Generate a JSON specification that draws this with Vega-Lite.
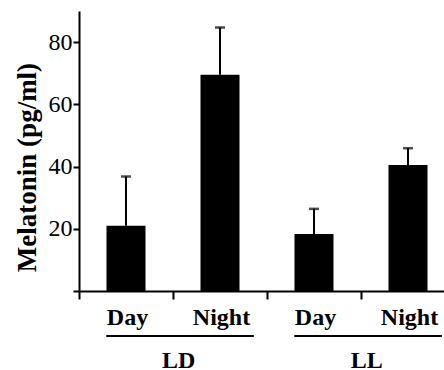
{
  "$schema": "https://vega.github.io/schema/vega-lite/v6.json",
  "autosize": "none",
  "padding": {"left": 79, "top": 11, "right": 0, "bottom": 79},
  "width": 376,
  "height": 280,
  "background": "white",
  "config": {
    "view": {"stroke": null},
    "font": "Liberation Serif",
    "axis": {"ticks": true, "tickColor": "black", "tickWidth": 2, "domainColor": "black", "domainWidth": 2}
  },
  "layer": [
    {
      "data": {"values": [
        {"cond": "LD-Day", "mean": 21, "upper": 36.8},
        {"cond": "LD-Night", "mean": 69.5, "upper": 84.7},
        {"cond": "LL-Day", "mean": 18.3, "upper": 26.4},
        {"cond": "LL-Night", "mean": 40.5, "upper": 45.9}
      ]},
      "layer": [
        {
          "mark": {"type": "rule", "color": "black", "strokeWidth": 2},
          "encoding": {
            "x": {"field": "cond", "type": "nominal"},
            "y": {"field": "mean", "type": "quantitative"},
            "y2": {"field": "upper"}
          }
        },
        {
          "mark": {"type": "tick", "color": "black", "size": 10, "thickness": 2.5, "orient": "horizontal"},
          "encoding": {
            "x": {"field": "cond", "type": "nominal"},
            "y": {"field": "upper", "type": "quantitative"}
          }
        },
        {
          "mark": {"type": "bar", "color": "black", "width": {"band": 0.415}},
          "encoding": {
            "x": {
              "field": "cond", "type": "nominal", "sort": null,
              "scale": {"type": "band", "paddingInner": 0, "paddingOuter": 0},
              "axis": {
                "title": null,
                "tickOffset": -47,
                "labelOffset": 48,
                "labelAngle": 0,
                "labelAlign": "center",
                "labelExpr": "split(datum.label, '-')[1]",
                "labelFont": "Liberation Serif",
                "labelFontWeight": "bold",
                "labelFontSize": 24,
                "labelColor": "black",
                "labelPadding": 18,
                "ticks": true,
                "tickSize": 8,
                "grid": false
              }
            },
            "y": {
              "field": "mean", "type": "quantitative",
              "scale": {"domain": [0, 90], "nice": false, "zero": true},
              "axis": {
                "title": "Melatonin (pg/ml)",
                "titleFont": "Liberation Serif",
                "titleFontWeight": "bold",
                "titleFontSize": 27,
                "titleColor": "black",
                "titlePadding": 7,
                "titleY": 156,
                "values": [0, 10, 20, 30, 40, 50, 60, 70, 80],
                "labelExpr": "datum.value % 20 == 0 && datum.value > 0 ? datum.label : ''",
                "labelFont": "Liberation Serif",
                "labelFontSize": 24,
                "labelColor": "black",
                "labelPadding": 1,
                "ticks": true,
                "tickSize": 6,
                "grid": false
              }
            }
          }
        }
      ]
    },
    {
      "data": {"values": [
        {"group": "LD", "g1": "LD-Day", "g2": "LD-Night"},
        {"group": "LL", "g1": "LL-Day", "g2": "LL-Night"}
      ]},
      "layer": [
        {
          "mark": {"type": "rule", "color": "black", "strokeWidth": 2},
          "encoding": {
            "x": {"field": "g1", "type": "nominal", "bandPosition": 0.29},
            "x2": {"field": "g2", "bandPosition": 0.86},
            "y": {"datum": -14.5, "type": "quantitative"}
          }
        },
        {
          "mark": {"type": "text", "font": "Liberation Serif", "fontWeight": "bold", "fontSize": 24, "color": "black", "baseline": "middle", "align": "center"},
          "encoding": {
            "x": {"field": "g2", "type": "nominal", "bandPosition": 0.06},
            "y": {"datum": -22.6, "type": "quantitative"},
            "text": {"field": "group"}
          }
        }
      ]
    }
  ]
}
